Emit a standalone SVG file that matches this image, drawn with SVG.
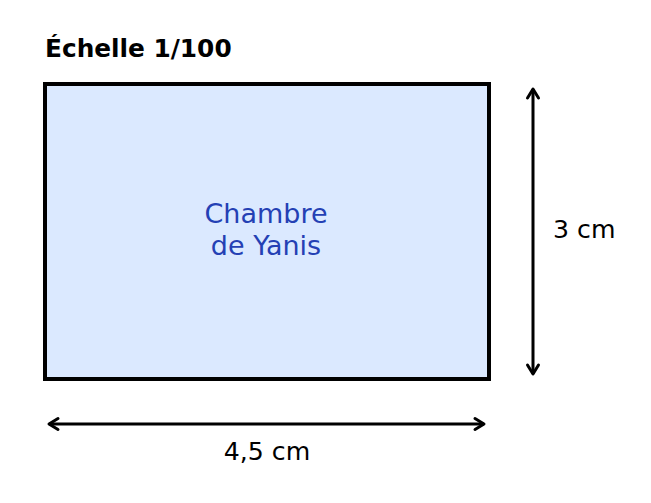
<svg xmlns="http://www.w3.org/2000/svg" width="651" height="503" viewBox="0 0 651 503">
<style>
.t{font-family:"DejaVu Sans",sans-serif}
.dim{stroke:#000;stroke-width:3;fill:none}
.head{stroke:#000;stroke-width:3;fill:none;stroke-linecap:round;stroke-linejoin:round}
</style>
<rect width="651" height="503" fill="#fff"/>
<text class="t" x="45" y="57" font-size="24.8" font-weight="bold" fill="#000">Échelle 1/100</text>
<g id="room">
<rect x="45" y="84" width="444" height="295" fill="#dbe9ff" stroke="#000" stroke-width="4"/>
<text class="t" x="266" y="223" font-size="27" fill="#2440b4" text-anchor="middle">Chambre</text>
<text class="t" x="266" y="255" font-size="27" fill="#2440b4" text-anchor="middle">de Yanis</text>
</g>
<g id="connectors">
<line class="dim" x1="533" y1="89" x2="533" y2="374"/>
<polyline class="head" points="527.5,98 533,89 538.5,98"/>
<polyline class="head" points="527.5,365 533,374 538.5,365"/>
<line class="dim" x1="49" y1="424" x2="484" y2="424"/>
<polyline class="head" points="58,418.5 49,424 58,429.5"/>
<polyline class="head" points="475,418.5 484,424 475,429.5"/>
</g>
<text class="t" x="553" y="238" font-size="25.2" fill="#000">3 cm</text>
<text class="t" x="267" y="460" font-size="25.2" fill="#000" text-anchor="middle">4,5 cm</text>
</svg>
